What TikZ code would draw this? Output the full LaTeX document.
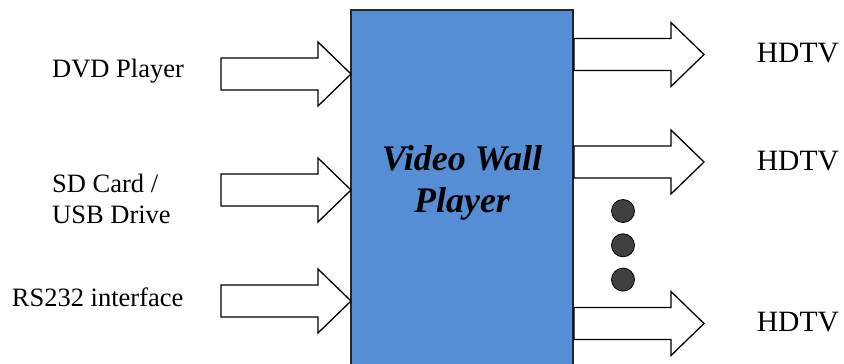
\documentclass[tikz,border=0pt]{standalone}
\usepackage{fontspec}
\setmainfont{Liberation Serif}
\usetikzlibrary{positioning}

\definecolor{wallblue}{HTML}{558ED5}
\definecolor{dotgray}{HTML}{404040}

% block arrow, #1 = left end of the shaft (middle)
\newcommand{\fatarrow}[1]{%
  \draw[fat] (#1) ++(0,-16) -- ++(97,0) -- ++(0,-16) -- ++(33,32)
    -- ++(-33,32) -- ++(0,-16) -- ++(-97,0) -- cycle;}

\begin{document}
\begin{tikzpicture}[x=1pt,y=-1pt]
\tikzset{fat/.style={draw=black,fill=white,line width=1.3pt,line join=miter},
  src/.style={font=\fontsize{26.5}{30.6}\selectfont,inner sep=0pt,anchor=base west,align=left},
  tv/.style={font=\fontsize{29.5}{34}\selectfont,inner sep=0pt,anchor=base west},
  dot/.style={circle,draw=black,fill=dotgray,line width=0.8pt,minimum size=23pt,inner sep=0pt}}
\clip (0,0) rectangle (844,364);

\node[draw=black!85,fill=wallblue,line width=1.3pt,minimum width=222pt,minimum height=380pt,inner sep=0pt] (vwp) at (462,200) {};
\node[font=\fontsize{36}{42}\selectfont\bfseries\itshape,align=center,inner sep=0pt] (vwplabel) at (462,182.6) {Video Wall\\Player};

% inputs
\coordinate (dvd) at (221,74);
\coordinate (sd) at (221,190);
\coordinate (rs) at (221,301);
\fatarrow{dvd}
\fatarrow{sd}
\fatarrow{rs}
\node[src] (dvdlabel) at (52,77.7) {DVD Player};
\node[src] (sdlabel) at (52,223.3) {SD Card /\\USB Drive};
\node[src] (rslabel) at (11.7,306.7) {RS232 interface};

% outputs
\coordinate (tv1) at (574,54.5);
\coordinate (tv2) at (574,162);
\coordinate (tv3) at (574,323.5);
\fatarrow{tv1}
\fatarrow{tv2}
\fatarrow{tv3}
\node[tv] (tvlabel1) at (756.7,62.7) {HDTV};
\node[tv] (tvlabel2) at (756.7,170) {HDTV};
\node[tv] (tvlabel3) at (756.7,331.7) {HDTV};

\node[dot] (dot1) at (623,211) {};
\node[dot,below=10.5pt of dot1] (dot2) {};
\node[dot,below=10.5pt of dot2] (dot3) {};
\end{tikzpicture}
\end{document}
